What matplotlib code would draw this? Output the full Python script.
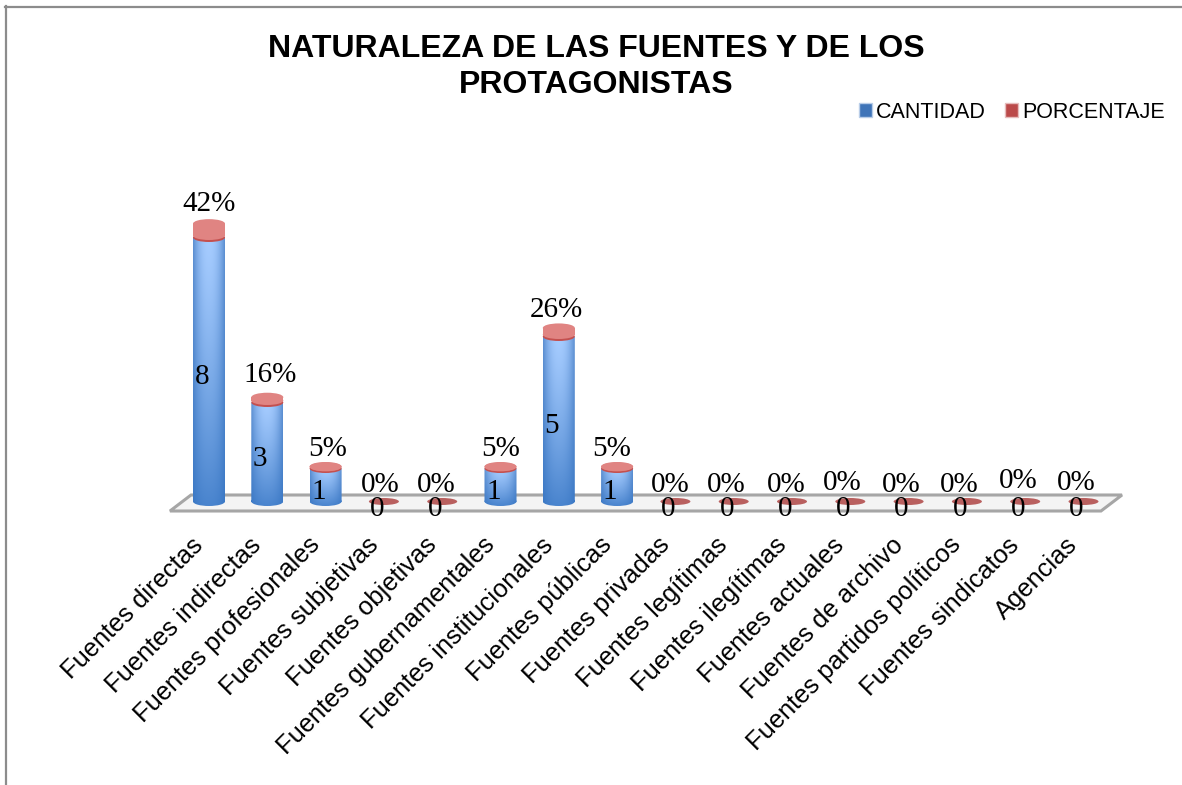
import numpy as np
import matplotlib
matplotlib.use('Agg')
import matplotlib.pyplot as plt
from matplotlib.patches import Ellipse, Polygon, Patch
from matplotlib.lines import Line2D
from matplotlib.path import Path
from matplotlib.transforms import Affine2D, ScaledTranslation

plt.rcParams['font.family'] = ['Liberation Sans', 'DejaVu Sans']

# Datos
categorias = ['Fuentes directas', 'Fuentes indirectas', 'Fuentes profesionales',
              'Fuentes subjetivas', 'Fuentes objetivas', 'Fuentes gubernamentales',
              'Fuentes institucionales', 'Fuentes públicas', 'Fuentes privadas',
              'Fuentes legítimas', 'Fuentes ilegítimas', 'Fuentes actuales',
              'Fuentes de archivo', 'Fuentes partidos políticos', 'Fuentes sindicatos',
              'Agencias']
cantidad = [8, 3, 1, 0, 0, 1, 5, 1, 0, 0, 0, 0, 0, 0, 0, 0]
porcentaje = [0.42, 0.16, 0.05, 0, 0, 0.05, 0.26, 0.05, 0, 0, 0, 0, 0, 0, 0, 0]
etiquetas_pct = ['42%', '16%', '5%', '0%', '0%', '5%', '26%', '5%',
                 '0%', '0%', '0%', '0%', '0%', '0%', '0%', '0%']

# Ajustes finos de las etiquetas, en pixeles (como quedan en el original)
pct_dx = [0, 3, 2, -4, -6, 0, -2, -5, -5, -7, -6, -8, -7, -8, -7, -7]
pct_dy = [4, 6, 2, 1, 1, 2, 2, 2, 1, 1, 1, 2, 1, 1, 5, 2]

W, H = 1182, 785
X0, DX = 209, 58.3      # pixel de la primera categoria y paso
Y0, DY = 501.5, 33      # pixel del valor 0 y pixeles por unidad
ANCHO = 32 / DX         # ancho del cilindro
ELIPSE = 9 / DY         # alto de la elipse
BORDE = 2 / DY          # borde oscuro bajo la tapa roja


def fx(px):
    return px / W


def fy(py):
    return 1 - py / H


fig = plt.figure(figsize=(W / 100, H / 100), dpi=100)
left, right, top, bottom = 170, 1122, 190, 512
ax = fig.add_axes([fx(left), fy(bottom), (right - left) / W, (bottom - top) / H])
ax.patch.set_visible(False)
xlim = ((left - X0) / DX, (right - X0) / DX)
ylim = ((Y0 - bottom) / DY, (Y0 - top) / DY)

# Marco de la imagen
fig.add_artist(Line2D([fx(5.5), fx(5.5)], [fy(6), 0], color='#8c8c8c', lw=1.6))
fig.add_artist(Line2D([fx(5), 1], [fy(6.5), fy(6.5)], color='#8c8c8c', lw=1.6))

# Piso
piso = [(170, 511), (191, 495), (1122, 495), (1101, 511)]
fig.add_artist(Polygon([(fx(a), fy(b)) for a, b in piso], closed=True,
                       facecolor='#f4f4f4', edgecolor='#a6a6a6', lw=2.2,
                       transform=fig.transFigure, zorder=-1))


def degradado(claro, oscuro, abajo):
    u = np.linspace(-1, 1, 64)
    v = np.linspace(0, 1, 128)[:, None, None]   # 0 arriba, 1 abajo
    t = (np.abs(u) ** 2.2)[None, :, None]
    img = (1 - t) * np.array(claro) + t * np.array(oscuro)
    return (1 - v ** 1.2) * img + v ** 1.2 * (0.2 * img + 0.8 * np.array(abajo))


azul_img = degradado((0.65, 0.80, 1.0), (0.36, 0.56, 0.82), (0.20, 0.45, 0.76))
x = np.arange(len(categorias))
barras = ax.bar(x, cantidad, ANCHO, color='none', zorder=2)

for b, c in zip(barras, cantidad):
    if c == 0:
        continue
    bx, w = b.get_x(), b.get_width()
    # cuerpo mas elipse inferior
    rect = Path.unit_rectangle().transformed(Affine2D().scale(w, c).translate(bx, 0))
    oval = Path.unit_circle().transformed(
        Affine2D().scale(w / 2, ELIPSE / 2).translate(bx + w / 2, 0))
    forma = Path.make_compound_path(rect, oval)
    im = ax.imshow(azul_img, extent=(bx, bx + w, -ELIPSE / 2, c), aspect='auto', zorder=2,
                   interpolation='bilinear')
    im.set_clip_path(forma, ax.transData)

# Serie apilada del porcentaje
rosa = '#e08482'
for i, (c, p) in enumerate(zip(cantidad, porcentaje)):
    if c == 0:
        ax.add_patch(Ellipse((i, c), 30 / DX, 7 / DY, facecolor='#b9605f', edgecolor='none',
                             zorder=3, clip_on=False))
        continue
    ax.add_patch(Ellipse((i, c), ANCHO, ELIPSE, facecolor='#c4504f', edgecolor='none', zorder=3))
    ax.bar(i, max(p - BORDE, 0), ANCHO, bottom=c + BORDE, color=rosa, zorder=3)
    ax.add_patch(Ellipse((i, c + BORDE), ANCHO, ELIPSE, facecolor=rosa, edgecolor='none', zorder=3))
    ax.add_patch(Ellipse((i, c + p), ANCHO, ELIPSE, facecolor=rosa, edgecolor='none', zorder=4))

# Etiquetas de datos
fuente = ['Liberation Serif', 'DejaVu Serif']
for i, (c, p, e) in enumerate(zip(cantidad, porcentaje, etiquetas_pct)):
    ax.annotate(str(c), (i, c / 2), xytext=(-7 * 0.72, -7 * 0.72), textcoords='offset points',
                ha='center', va='center', fontsize=21, family=fuente, color='black', zorder=6,
                annotation_clip=False)
    ax.annotate(e, (i, c + p), xytext=(pct_dx[i] * 0.72, (3 + pct_dy[i]) * 0.72),
                textcoords='offset points', ha='center', va='bottom', fontsize=21,
                family=fuente, color='black', zorder=6, annotation_clip=False)

ax.set_xticks(x)
ax.set_xticklabels(categorias, rotation=45, ha='right', va='top', rotation_mode='anchor',
                   fontsize=18.4)
ax.tick_params(axis='x', length=0, pad=15)
desplaza = ScaledTranslation(-0.18, 0.0, fig.dpi_scale_trans)
for t in ax.get_xticklabels():
    t.set_transform(t.get_transform() + desplaza)
ax.set_yticks([])
for s in ax.spines.values():
    s.set_visible(False)
ax.set_xlim(xlim)
ax.set_ylim(ylim)

# Titulo y leyenda
fig.text(fx(596), fy(67), 'NATURALEZA DE LAS FUENTES Y DE LOS\nPROTAGONISTAS', ha='center',
         va='center', fontsize=23, fontweight='bold', linespacing=1.3)
fig.legend(handles=[Patch(facecolor='#3f74b8', edgecolor='#b9cde8', label='CANTIDAD'),
                    Patch(facecolor='#bb4a4a', edgecolor='#e6bcbc', label='PORCENTAJE')],
           ncol=2, loc='center right', bbox_to_anchor=(fx(1165), fy(112)), frameon=False,
           fontsize=15.5, handlelength=0.6, handleheight=0.6, handletextpad=0.2,
           columnspacing=0.9, borderpad=0, borderaxespad=0)

fig.savefig('out.png', dpi=100)
